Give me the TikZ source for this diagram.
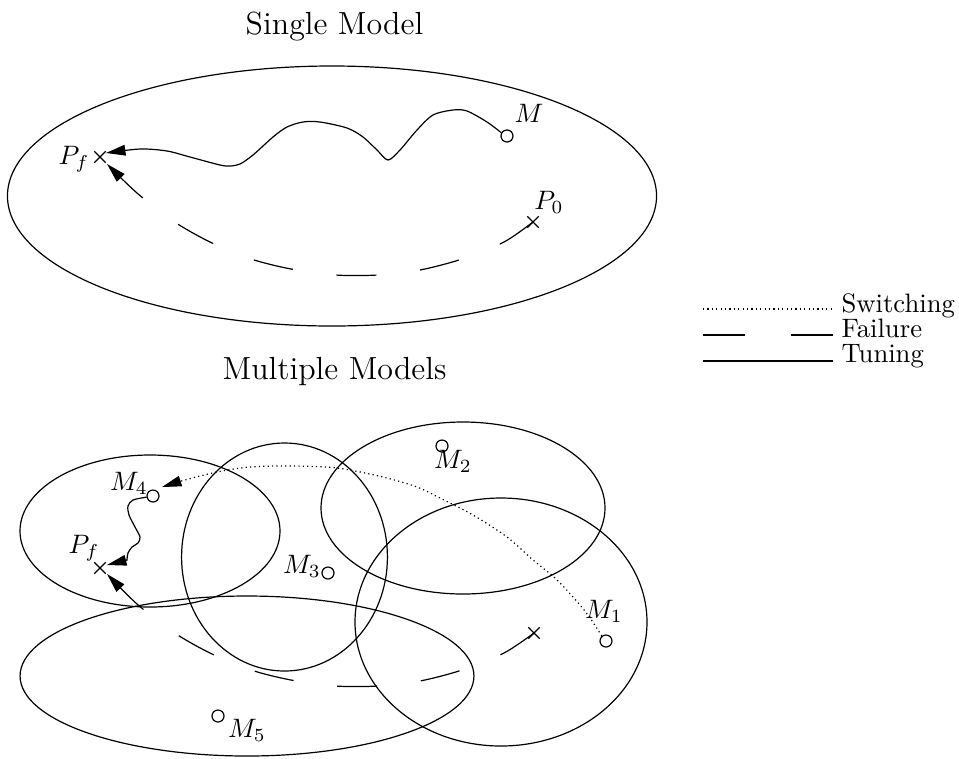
\documentclass[tikz,border=0pt]{standalone}
\usetikzlibrary{arrows.meta,shapes.misc}
\begin{document}
\begin{tikzpicture}[x=0.375pt,y=-0.375pt,
  line width=0.45pt,
  pt/.style={circle,draw,minimum size=4.5pt,inner sep=0pt},
  xmark/.style={cross out,draw,minimum size=3.8pt,inner sep=0pt},
  arr/.style={-{Triangle[length=7.3pt,width=4pt]}},
  fail/.style={dash pattern=on 15pt off 16.5pt},
  switch/.style={dash pattern=on 0.45pt off 1.2pt},
  lbl/.style={inner sep=1pt},
  title/.style={font=\large,anchor=base}]
\useasboundingbox (0,0) rectangle (959,758);

% titles
\node[title] (t1) at (334.5,34) {Single Model};
\node[title] (t2) at (334.5,379) {Multiple Models};

% ---------- single model ----------
\draw (332,196) ellipse [x radius=121.7pt, y radius=48.75pt];
\node[pt] (M) at (507,136) {};
\node[xmark] (Pf) at (100,157) {};
\node[xmark] (P0) at (533,222) {};
\node[lbl] (lM) at (529,113) {$M$};
\node[lbl] (lPf) at (74,159) {$P_f$};
\node[lbl] (lP0) at (549,202) {$P_0$};

\draw[arr] plot[smooth] coordinates {(M.150) (487,122) (467,111) (453,110) (433,115) (417,130) (400,150) (388,160) (377,150) (363,137) (347,128) (320,122) (303,122) (287,127) (273,137) (253,155) (240,164) (230,166) (220,165) (190,157) (167,151) (140,149) ([shift={(6,-4)}]Pf.center)};
\draw[fail,arr] plot[smooth] coordinates {(P0.center) (504,242) (462,259) (420,270) (378,275) (335,275) (291,269) (251,259) (210,242) (173,221) (137,193) ([shift={(7,7)}]Pf.center)};

% ---------- legend ----------
\coordinate (sa) at (703,309); \coordinate (sb) at (833,309);
\coordinate (fa) at (703,335); \coordinate (fb) at (833,335);
\coordinate (ta) at (703,361); \coordinate (tb) at (833,361);
\draw[switch] (sa) -- (sb);
\draw[dash pattern=on 15.9pt off 17pt] (fa) -- (fb);
\draw (ta) -- (tb);
\node[anchor=base west,inner sep=0pt] (ls) at (841,312) {Switching};
\node[anchor=base west,inner sep=0pt] (lf) at (841,337) {Failure};
\node[anchor=base west,inner sep=0pt] (lt) at (841,362) {Tuning};

% ---------- multiple models ----------
\draw (150,531) ellipse [x radius=48.75pt, y radius=28.5pt];
\draw (284.5,557) ellipse [x radius=38.6pt, y radius=42.75pt];
\draw (463,508) ellipse [x radius=53.25pt, y radius=32.25pt];
\draw (501,622) ellipse [x radius=54.75pt, y radius=46.5pt];
\draw (247,676) ellipse [x radius=85.1pt, y radius=30pt];

\node[pt] (M1) at (606,641) {};
\node[pt] (M2) at (442,446) {};
\node[pt] (M3) at (328,573) {};
\node[pt] (M4) at (153,496) {};
\node[pt] (M5) at (218,716) {};
\node[xmark] (Pf2) at (100,568) {};
\node[xmark] (P02) at (534,633) {};
\node[lbl] (lM1) at (604,611) {$M_1$};
\node[lbl] (lM2) at (453,461) {$M_2$};
\node[lbl] (lM3) at (302,566) {$M_3$};
\node[lbl] (lM4) at (129,483) {$M_4$};
\node[lbl] (lM5) at (247,730) {$M_5$};
\node[lbl] (lPf2) at (84,548) {$P_f$};

\draw[switch,arr] plot[smooth] coordinates {(M1.130) (588,615) (573,597) (555,578) (533,560) (507,537) (473,515) (440,498) (417,487) (383,477) (337,468) (290,466) (250,467) (217,472) (185,480) ([shift={(9,-9)}]M4.center)};
\draw[arr] plot[smooth] coordinates {(M4.190) (133,500) (128,506) (129,515) (135,527) (140,537) (138,543) (132,547) (128,553) (127,560)} -- ([shift={(7,-3)}]Pf2.center);
\draw[fail,arr] plot[smooth] coordinates {(P02.center) (504,653) (462,670) (420,681) (378,686) (335,686) (291,680) (251,670) (210,653) (173,632) (137,604) ([shift={(7,6)}]Pf2.center)};
\end{tikzpicture}
\end{document}
